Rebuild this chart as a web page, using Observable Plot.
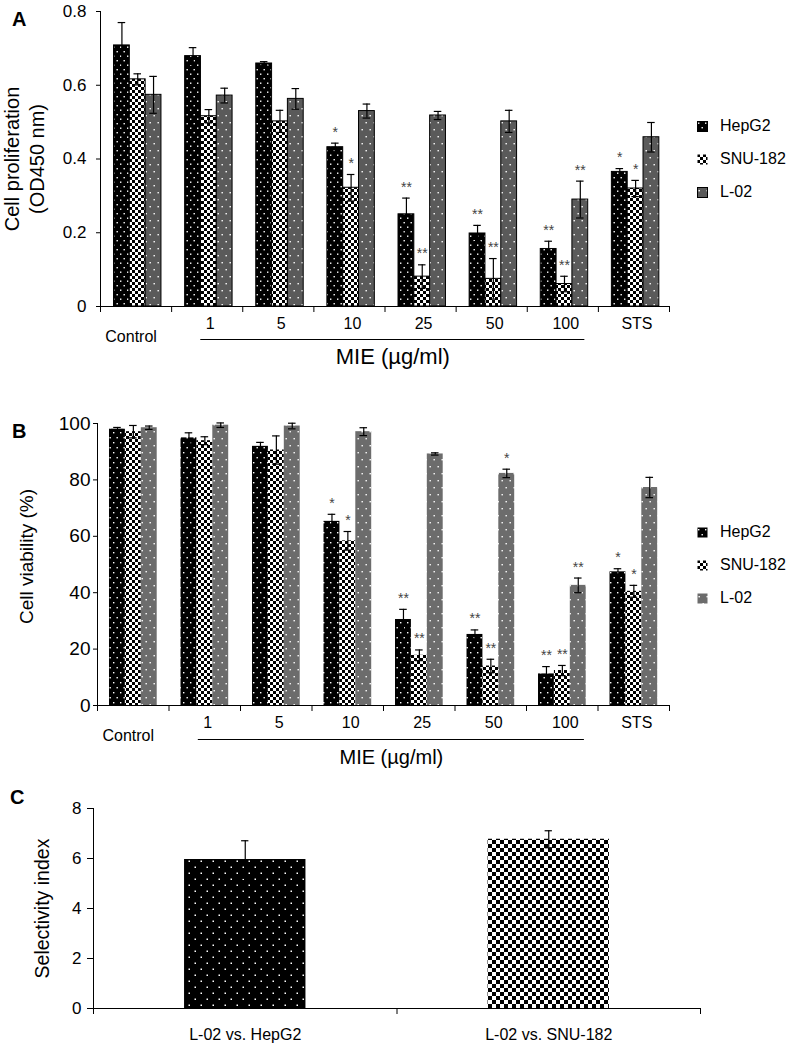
<!DOCTYPE html>
<html><head><meta charset="utf-8">
<script src="https://cdn.jsdelivr.net/npm/d3@7"></script>
<script src="https://cdn.jsdelivr.net/npm/@observablehq/plot@0.6"></script>
<style>
body{margin:0;background:#fff;font-family:"Liberation Sans",Arial,sans-serif;color:#000;}
#root{position:relative;width:793px;height:1045px;overflow:hidden;background:#fff;}
.panel{position:absolute;left:0;}
.letter{position:absolute;font-weight:bold;font-size:20px;line-height:1;}
.legend{position:absolute;left:697px;font-size:16px;}
.legend .item{position:absolute;left:0;display:flex;align-items:center;white-space:nowrap;}
.legend svg{margin-right:12px;}
</style></head><body>
<svg width="0" height="0" style="position:absolute">
<defs>
<pattern id="hepA" width="7" height="9" patternUnits="userSpaceOnUse">
<rect width="7" height="9" fill="#000"/><rect x="1" y="1.5" width="1.4" height="1.4" fill="#fff"/><rect x="4.5" y="6" width="1.4" height="1.4" fill="#fff"/>
</pattern>
<pattern id="chkA" width="6" height="6" patternUnits="userSpaceOnUse">
<rect width="6" height="6" fill="#fff"/><rect width="3" height="3" fill="#000"/><rect x="3" y="3" width="3" height="3" fill="#000"/>
</pattern>
<pattern id="l02A" width="8" height="14" patternUnits="userSpaceOnUse">
<rect width="8" height="14" fill="#5a5a5a"/><rect x="1.5" y="3" width="1.4" height="1.4" fill="#fff"/><rect x="5.5" y="10" width="1.4" height="1.4" fill="#fff"/>
</pattern>
<pattern id="hepB" width="7" height="10" patternUnits="userSpaceOnUse">
<rect width="7" height="10" fill="#000"/><rect x="1" y="2" width="1.4" height="1.4" fill="#fff"/><rect x="4.5" y="7" width="1.4" height="1.4" fill="#fff"/>
</pattern>
<pattern id="l02B" width="8" height="14" patternUnits="userSpaceOnUse">
<rect width="8" height="14" fill="#6c6c6c"/><rect x="1.5" y="3" width="1.4" height="1.4" fill="#fff"/><rect x="5.5" y="10" width="1.4" height="1.4" fill="#fff"/>
</pattern>
<pattern id="hepC" width="12" height="12" patternUnits="userSpaceOnUse">
<rect width="12" height="12" fill="#000"/><rect x="2.5" y="2.5" width="1.5" height="1.5" fill="#fff"/><rect x="8.5" y="8.5" width="1.5" height="1.5" fill="#fff"/>
</pattern>
<pattern id="chkC" width="8" height="8" patternUnits="userSpaceOnUse">
<rect width="8" height="8" fill="#fff"/><rect width="4" height="4" fill="#000"/><rect x="4" y="4" width="4" height="4" fill="#000"/>
</pattern>
</defs>
</svg>
<div id="root"></div>
<script>
// ---------- data ----------
const categories = ["Control", "1", "5", "10", "25", "50", "100", "STS"];
const series = ["HepG2", "SNU-182", "L-02"];

// Panel A: cell proliferation (OD450 nm)
const profHepG2 = [0.708, 0.679, 0.659, 0.432, 0.250, 0.198, 0.156, 0.365];
const profHepG2Err = [0.062, 0.023, 0.005, 0.011, 0.044, 0.022, 0.021, 0.009];
const profSNU = [0.616, 0.516, 0.502, 0.322, 0.081, 0.075, 0.061, 0.320];
const profSNUErr = [0.015, 0.018, 0.030, 0.036, 0.032, 0.055, 0.021, 0.022];
const profL02 = [0.574, 0.572, 0.563, 0.530, 0.518, 0.502, 0.290, 0.459];
const profL02Err = [0.050, 0.020, 0.028, 0.019, 0.011, 0.030, 0.050, 0.040];
const profHepG2Sig = ["", "", "", "*", "**", "**", "**", "*"];
const profSNUSig = ["", "", "", "*", "**", "**", "**", "*"];
const profL02Sig = ["", "", "", "", "", "", "**", ""];
const profTicks = [0, 0.2, 0.4, 0.6, 0.8];

// Panel B: cell viability (%)
const viaHepG2 = [98.0, 94.9, 91.9, 65.3, 30.5, 25.2, 11.2, 47.4];
const viaHepG2Err = [0.6, 1.8, 1.4, 2.5, 3.6, 1.6, 2.6, 1.1];
const viaSNU = [97.1, 93.9, 90.6, 58.4, 17.8, 14.0, 12.4, 40.5];
const viaSNUErr = [2.2, 1.4, 5.0, 3.3, 1.9, 2.4, 1.8, 2.1];
const viaL02 = [98.5, 99.4, 99.1, 97.1, 89.2, 82.3, 42.6, 77.3];
const viaL02Err = [0.6, 0.8, 1.0, 1.4, 0.4, 1.5, 2.6, 3.6];
const viaHepG2Sig = ["", "", "", "*", "**", "**", "**", "*"];
const viaSNUSig = ["", "", "", "*", "**", "**", "**", "*"];
const viaL02Sig = ["", "", "", "", "", "*", "**", ""];
const viaTicks = [0, 20, 40, 60, 80, 100];

// Panel C: selectivity index
const siLabels = ["L-02 vs. HepG2", "L-02 vs. SNU-182"];
const siValues = [5.96, 6.77];
const siErr = [0.75, 0.34];
const siTicks = [0, 2, 4, 6, 8];

// ---------- helpers ----------
function rowsFrom(vals, errs, sigs) {
  const out = [];
  series.forEach((s, si) => {
    categories.forEach((c, ci) => {
      out.push({s, si, c, ci, v: vals[si][ci], e: errs[si][ci], sig: sigs[si][ci]});
    });
  });
  return out;
}

const root = document.getElementById("root");
const FONT = '"Liberation Sans", Arial, sans-serif';

function yTickMarks(ticks, fmt, tickSize, pad, fontSize) {
  return [
    Plot.axisY({ticks, tickSize, tickFormat: () => "", label: null}),
    Plot.text(ticks, {y: d => d, frameAnchor: "left", dx: -(tickSize + pad), textAnchor: "end",
      text: fmt, fontSize, fontFamily: FONT, fill: "#000"})
  ];
}

function groupedPanel(opts) {
  const {rows, yMax, ticks, fmt, top, height, mTop, mBottom, mLeft, mRight,
         g0, fills, stroke, tickPad, tickFont, yTitle, numDx, mieDy, lineDy, mieFont} = opts;
  const w = 0.667 / 3;
  const cx = d => d.ci + g0 + (d.si + 0.5) * w;
  const cap = 0.053;
  const lx1 = categories.indexOf("1") + 0.41, lx2 = categories.indexOf("100") + 0.81;
  const marks = [];
  series.forEach((s, si) => {
    marks.push(Plot.rectY(rows.filter(d => d.si === si), {
      x1: d => d.ci + g0 + d.si * w, x2: d => d.ci + g0 + (d.si + 1) * w,
      y1: 0, y2: "v", fill: fills[si], stroke: stroke, strokeWidth: 1
    }));
  });
  marks.push(
    Plot.ruleX(rows, {x: cx, y1: d => d.v - d.e, y2: d => d.v + d.e, stroke: "#000", strokeWidth: 1.2}),
    Plot.ruleY(rows, {y: d => d.v + d.e, x1: d => cx(d) - cap, x2: d => cx(d) + cap, stroke: "#000", strokeWidth: 1.2}),
    Plot.ruleY(rows, {y: d => d.v - d.e, x1: d => cx(d) - cap, x2: d => cx(d) + cap, stroke: "#000", strokeWidth: 1.2}),
    Plot.text(rows.filter(d => d.sig), {x: cx, y: d => d.v + d.e, text: "sig", dy: -11, fill: "#444", fontSize: 14, fontFamily: FONT}),
    Plot.ruleX([0], {stroke: "#000"}),
    Plot.ruleY([0], {stroke: "#000"}),
    ...yTickMarks(ticks, fmt, 4, tickPad, tickFont),
    Plot.axisX({ticks: d3.range(categories.length + 1), tickSize: 6, tickFormat: () => "", label: null}),
    Plot.text(categories.slice(1), {x: (d, i) => i + 1.5, y: 0, text: d => d, dy: 17, dx: numDx, fontSize: 16, fontFamily: FONT, fill: "#000"}),
    Plot.text([categories[0]], {x: 0.5, y: 0, text: d => d, dy: 30, dx: -5, fontSize: 16, fontFamily: FONT, fill: "#000"}),
    Plot.ruleY([0], {x1: lx1, x2: lx2, dy: lineDy, stroke: "#000"}),
    Plot.text(["MIE (µg/ml)"], {x: (lx1 + lx2) / 2, y: 0, text: d => d, dy: mieDy, fontSize: mieFont, fontFamily: FONT, fill: "#000"}),
    ...yTitle
  );
  const chart = Plot.plot({
    width: 793, height, marginTop: mTop, marginBottom: mBottom, marginLeft: mLeft, marginRight: mRight,
    x: {domain: [0, categories.length], axis: null},
    y: {domain: [0, yMax], axis: null},
    style: {fontFamily: FONT, background: "transparent", overflow: "visible"},
    marks
  });
  chart.classList.add("panel");
  chart.style.top = top + "px";
  root.appendChild(chart);
}

// Panel A
groupedPanel({
  rows: rowsFrom([profHepG2, profSNU, profL02], [profHepG2Err, profSNUErr, profL02Err], [profHepG2Sig, profSNUSig, profL02Sig]),
  yMax: 0.8, ticks: profTicks, fmt: d => d === 0 ? "0" : d3.format(".1f")(d),
  top: 0, height: 370, mTop: 11, mBottom: 64, mLeft: 100, mRight: 124,
  g0: 0.19, fills: ["url(#hepA)", "url(#chkA)", "url(#l02A)"], stroke: "#000",
  tickPad: 10, tickFont: 17, numDx: 3, mieDy: 50, lineDy: 33, mieFont: 22,
  yTitle: [
    Plot.text(["Cell proliferation"], {frameAnchor: "left", text: d => d, rotate: -90, dx: -88, textAnchor: "middle", fontSize: 20, fontFamily: FONT, fill: "#000"}),
    Plot.text(["(OD450 nm)"], {frameAnchor: "left", text: d => d, rotate: -90, dx: -63, textAnchor: "middle", fontSize: 20, fontFamily: FONT, fill: "#000"})
  ]
});

// Panel B
groupedPanel({
  rows: rowsFrom([viaHepG2, viaSNU, viaL02], [viaHepG2Err, viaSNUErr, viaL02Err], [viaHepG2Sig, viaSNUSig, viaL02Sig]),
  yMax: 100, ticks: viaTicks, fmt: d => String(d),
  top: 400, height: 370, mTop: 23, mBottom: 65, mLeft: 97, mRight: 124,
  g0: 0.168, fills: ["url(#hepB)", "url(#chkA)", "url(#l02B)"], stroke: "none",
  tickPad: 3, tickFont: 19, numDx: 3, mieDy: 52, lineDy: 34, mieFont: 20,
  yTitle: [
    Plot.text(["Cell viability (%)"], {frameAnchor: "left", text: d => d, rotate: -90, dx: -71, dy: -8, textAnchor: "middle", fontSize: 19, fontFamily: FONT, fill: "#000"})
  ]
});

// Panel C
(function () {
  const rows = siLabels.map((l, i) => ({l, i, v: siValues[i], e: siErr[i]}));
  const fillsC = ["url(#hepC)", "url(#chkC)"];
  const cap = 0.012;
  const chart = Plot.plot({
    width: 793, height: 265, marginTop: 28, marginBottom: 37, marginLeft: 93, marginRight: 93,
    x: {domain: [0, siLabels.length], axis: null},
    y: {domain: [0, 8], axis: null},
    style: {fontFamily: FONT, background: "transparent", overflow: "visible"},
    marks: [
      ...rows.map(r => Plot.rectY([r], {x1: d => d.i + 0.3, x2: d => d.i + 0.7, y1: 0, y2: "v", fill: fillsC[r.i]})),
      Plot.ruleX(rows, {x: d => d.i + 0.5, y1: d => d.v - d.e, y2: d => d.v + d.e, stroke: "#000", strokeWidth: 1.2}),
      Plot.ruleY(rows, {y: d => d.v + d.e, x1: d => d.i + 0.5 - cap, x2: d => d.i + 0.5 + cap, stroke: "#000", strokeWidth: 1.2}),
      Plot.ruleY(rows, {y: d => d.v - d.e, x1: d => d.i + 0.5 - cap, x2: d => d.i + 0.5 + cap, stroke: "#000", strokeWidth: 1.2}),
      Plot.ruleX([0], {stroke: "#000"}),
      Plot.ruleY([0], {stroke: "#000"}),
      ...yTickMarks(siTicks, d => String(d), 6, 6, 17),
      Plot.axisX({ticks: d3.range(siLabels.length + 1), tickSize: 6, tickFormat: () => "", label: null}),
      Plot.text(rows, {x: d => d.i + 0.5, y: 0, text: "l", dy: 26, fontSize: 16, fontFamily: FONT, fill: "#000"}),
      Plot.text(["Selectivity index"], {frameAnchor: "left", text: d => d, rotate: -90, dx: -51, textAnchor: "middle", fontSize: 19.5, fontFamily: FONT, fill: "#000"})
    ]
  });
  chart.classList.add("panel");
  chart.style.top = "780px";
  root.appendChild(chart);
})();

// Panel letters
[["A", 12, 9], ["B", 12, 421], ["C", 10, 787]].forEach(([t, x, y]) => {
  const d = document.createElement("div");
  d.className = "letter"; d.textContent = t;
  d.style.left = x + "px"; d.style.top = y + "px";
  root.appendChild(d);
});

// Legends
function legend(top, fills, borders) {
  const L = document.createElement("div");
  L.className = "legend"; L.style.top = top + "px";
  series.forEach((s, i) => {
    const it = document.createElement("div");
    it.className = "item"; it.style.top = (i * 33) + "px";
    it.innerHTML = `<svg width="11" height="11"><rect x="0.5" y="0.5" width="10" height="10" fill="${fills[i]}" stroke="${borders[i]}"/></svg><span>${s}</span>`;
    L.appendChild(it);
  });
  root.appendChild(L);
}
legend(117, ["url(#hepA)", "url(#chkA)", "url(#l02A)"], ["#000", "none", "#000"]);
legend(523, ["url(#hepB)", "url(#chkA)", "url(#l02B)"], ["none", "none", "none"]);
</script>
</body></html>
